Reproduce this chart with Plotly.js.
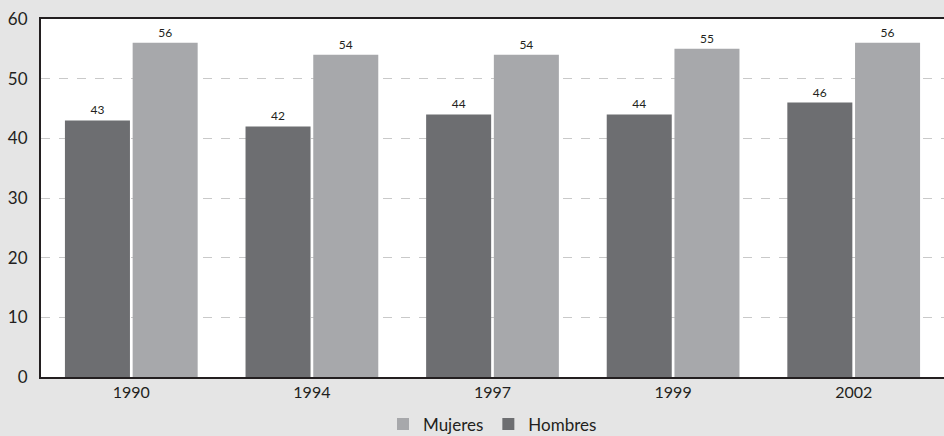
<!DOCTYPE html>
<html>
<head>
<meta charset="utf-8">
<script src="https://cdn.plot.ly/plotly-3.0.1.min.js"></script>
<style>html,body{margin:0;padding:0;background:#e5e5e5;}#chart{width:944px;height:436px;}</style>
</head>
<body>
<div id="chart"></div>
<script>
const years = ['1990', '1994', '1997', '1999', '2002'];
const hombres = [43, 42, 44, 44, 46];
const mujeres = [56, 54, 54, 55, 56];
const yTicks = [0, 10, 20, 30, 40, 50, 60];

const font = 'Lato, "Open Sans", sans-serif';
const traces = [
  {type: 'bar', name: 'Hombres', x: years, y: hombres, marker: {color: '#6d6e71'},
   text: hombres.map(String), textposition: 'outside', cliponaxis: false,
   textfont: {size: 12, color: '#231f20', family: font}, hoverinfo: 'none'},
  {type: 'bar', name: 'Mujeres', x: years, y: mujeres, marker: {color: '#a7a8ab'},
   text: mujeres.map(String), textposition: 'outside', cliponaxis: false,
   textfont: {size: 12, color: '#231f20', family: font}, hoverinfo: 'none'}
];
const layout = {
  width: 944, height: 436,
  margin: {l: 41, r: 0, t: 19, b: 59, autoexpand: false},
  paper_bgcolor: '#e5e5e5', plot_bgcolor: '#ffffff',
  font: {family: font, color: '#231f20', size: 16},
  barmode: 'group', bargap: 0.25, bargroupgap: 0.04,
  showlegend: true,
  legend: {orientation: 'h', x: 0.5, xanchor: 'center', y: -0.082, yanchor: 'top',
           traceorder: 'reversed', font: {size: 17}, bgcolor: 'rgba(0,0,0,0)',
           itemwidth: 30, tracegroupgap: 0},
  xaxis: {type: 'category', showline: true, linecolor: '#231f20', linewidth: 2, mirror: true,
          showgrid: false, ticks: '', tickfont: {size: 16}, fixedrange: true},
  yaxis: {range: [0, 60], tickvals: yTicks, showline: true, linecolor: '#231f20', linewidth: 2,
          showgrid: true, gridcolor: '#c9c9c9', griddash: 'dash', gridwidth: 1,
          zeroline: false, ticks: '', ticklabelstandoff: 8, tickfont: {size: 17}, fixedrange: true}
};
Plotly.newPlot('chart', traces, layout, {displayModeBar: false, staticPlot: true});
</script>
</body>
</html>
